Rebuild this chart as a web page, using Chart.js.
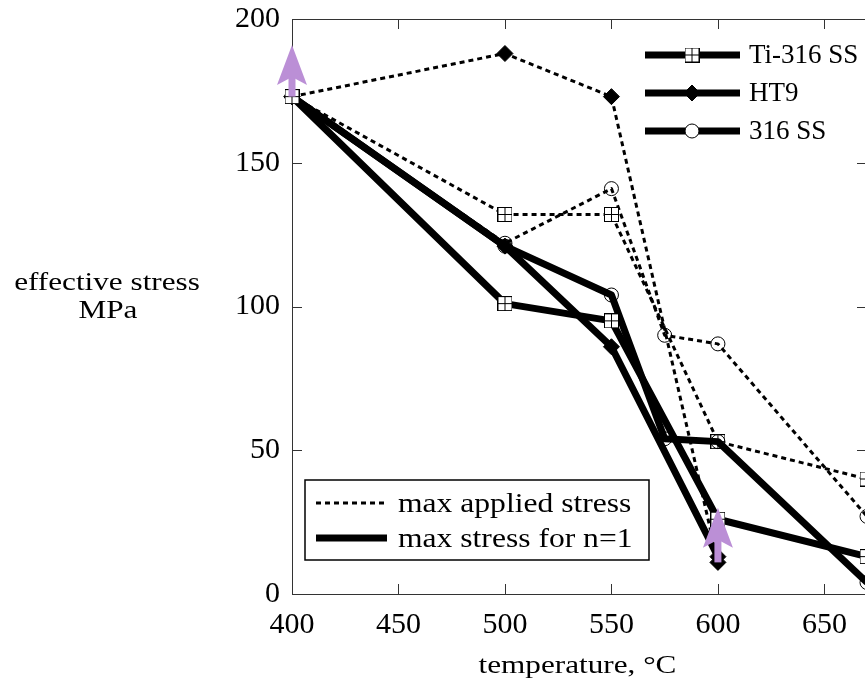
<!DOCTYPE html>
<html>
<head>
<meta charset="utf-8">
<script src="https://cdn.jsdelivr.net/npm/chart.js@4.4.1/dist/chart.umd.min.js"></script>
<style>
    html, body { margin: 0; padding: 0; background: #fff; overflow: hidden; }
    canvas { display: block; }
</style>
</head>
<body>
<canvas id="stressChart" width="880" height="687" style="width:880px;height:687px"></canvas>
<script>
// temperatures (°C) and effective stress (MPa)
const tiTemps = [400, 500, 550, 600, 670];
const tiApplied = [173, 132, 132, 53, 40];
const tiN1 = [173, 101, 95, 26, 13];

const ht9Temps = [400, 500, 550, 600];
const ht9Applied = [173, 188, 173, 11];
const ht9N1 = [173, 121, 86, 13];

const ssTemps = [400, 500, 550, 575, 600, 670];
const ssApplied = [173, 122, 141, 90, 87, 27];
const ssN1 = [173, 121, 104, 54, 53, 4];

const xTicks = [400, 450, 500, 550, 600, 650];
const yTicks = [0, 50, 100, 150, 200];

// purple arrows: temperature, start and end stress
const arrowTemps = [400, 600];
const arrowFrom = [173, 11];
const arrowTo = [191, 30];

const materials = ['Ti-316 SS', 'HT9', '316 SS'];
const stressKinds = ['max applied stress', 'max stress for n=1'];

const serif = "'Liberation Serif', 'Times New Roman', Times, serif";
const arrowColor = '#bb8fd6';

function squareMarker() {
    const c = document.createElement('canvas');
    c.width = 15;
    c.height = 15;
    const g = c.getContext('2d');
    g.fillStyle = '#fff';
    g.fillRect(0, 0, 15, 15);
    g.strokeStyle = '#000';
    g.lineWidth = 1;
    g.strokeRect(0.5, 0.5, 14, 14);
    g.beginPath();
    g.moveTo(7.5, 0); g.lineTo(7.5, 15);
    g.moveTo(0, 7.5); g.lineTo(15, 7.5);
    g.stroke();
    return c;
}
const squareStyle = squareMarker();
const markerStyles = [squareStyle, 'rectRot', 'circle'];
const markerRadius = [7, 8, 7];
const markerFill = ['#fff', '#000', 'rgba(0,0,0,0)'];

const pts = (temps, vals) => temps.map((t, i) => ({ x: t, y: vals[i] }));

function series(label, temps, vals, m, dashed) {
    return {
        label: label,
        data: pts(temps, vals),
        borderColor: '#000',
        borderWidth: dashed ? 3 : 7,
        borderDash: dashed ? [5, 4] : [],
        borderJoinStyle: 'round',
        pointStyle: markerStyles[m],
        pointRadius: markerRadius[m],
        pointBackgroundColor: markerFill[m],
        pointBorderColor: '#000',
        pointBorderWidth: 1,
        showLine: true,
        fill: false,
        clip: false
    };
}

function stretchedText(ctx, text, x, y, align, sx) {
    ctx.save();
    ctx.translate(x, y);
    ctx.scale(sx, 1);
    ctx.textAlign = align;
    ctx.fillText(text, 0, 0);
    ctx.restore();
}

const framePlugin = {
    id: 'frame',
    beforeDatasetsDraw(chart) {
        const { ctx, chartArea: a, scales: { x, y } } = chart;
        ctx.save();
        ctx.strokeStyle = '#333';
        ctx.lineWidth = 1;
        ctx.strokeRect(a.left + 0.5, a.top + 0.5, a.right - a.left, a.bottom - a.top);
        ctx.beginPath();
        xTicks.forEach(v => {
            const px = Math.round(x.getPixelForValue(v)) + 0.5;
            ctx.moveTo(px, a.bottom); ctx.lineTo(px, a.bottom - 10);
            ctx.moveTo(px, a.top); ctx.lineTo(px, a.top + 10);
        });
        yTicks.forEach(v => {
            const py = Math.round(y.getPixelForValue(v)) + 0.5;
            ctx.moveTo(a.left, py); ctx.lineTo(a.left + 10, py);
            ctx.moveTo(a.right, py); ctx.lineTo(a.right - 10, py);
        });
        ctx.stroke();
        ctx.restore();
    }
};

const overlayPlugin = {
    id: 'overlay',
    afterDraw(chart) {
        const { ctx, chartArea: a, scales: { x, y } } = chart;
        ctx.save();

        // arrows
        arrowTemps.forEach((t, i) => {
            const px = x.getPixelForValue(t);
            const y0 = y.getPixelForValue(arrowFrom[i]);
            const y1 = y.getPixelForValue(arrowTo[i]);
            ctx.fillStyle = arrowColor;
            ctx.fillRect(px - 3.5, y1 + 30, 7, y0 - y1 - 30);
            ctx.beginPath();
            ctx.moveTo(px, y1);
            ctx.lineTo(px + 15, y1 + 40);
            ctx.lineTo(px, y1 + 32);
            ctx.lineTo(px - 15, y1 + 40);
            ctx.closePath();
            ctx.fill();
        });

        // axis titles
        ctx.fillStyle = '#000';
        ctx.textBaseline = 'alphabetic';
        ctx.font = '26px ' + serif;
        stretchedText(ctx, 'temperature, °C', (a.left + a.right) / 2 - 2, a.bottom + 79, 'center', 1.2);
        stretchedText(ctx, 'effective stress', 107, 290, 'center', 1.2);
        stretchedText(ctx, 'MPa', 108, 318, 'center', 1.2);

        // material legend
        materials.forEach((name, i) => {
            const ly = a.top + 36 + i * 38;
            ctx.strokeStyle = '#000';
            ctx.lineWidth = 7;
            ctx.setLineDash([]);
            ctx.beginPath();
            ctx.moveTo(a.right - 222, ly);
            ctx.lineTo(a.right - 127, ly);
            ctx.stroke();
            ctx.lineWidth = 1;
            ctx.fillStyle = i === 2 ? '#fff' : markerFill[i];
            Chart.helpers.drawPoint(ctx, {
                pointStyle: markerStyles[i], radius: markerRadius[i], borderWidth: 1
            }, a.right - 175, ly);
            ctx.fillStyle = '#000';
            ctx.font = '27px ' + serif;
            ctx.textBaseline = 'middle';
            ctx.textAlign = 'left';
            ctx.fillText(name, a.right - 118, ly + 1);
        });

        // line style legend
        const bx = a.left + 13, by = a.bottom - 114;
        ctx.fillStyle = '#fff';
        ctx.fillRect(bx, by, 344, 80);
        ctx.strokeStyle = '#000';
        ctx.lineWidth = 1.5;
        ctx.strokeRect(bx, by, 344, 80);
        ctx.font = '27px ' + serif;
        ctx.textBaseline = 'alphabetic';
        stressKinds.forEach((name, i) => {
            const ly = by + 23 + i * 35;
            ctx.lineWidth = i === 0 ? 3 : 7;
            ctx.setLineDash(i === 0 ? [5, 4] : []);
            ctx.beginPath();
            ctx.moveTo(bx + 11, ly);
            ctx.lineTo(bx + 82, ly);
            ctx.stroke();
            ctx.setLineDash([]);
            ctx.fillStyle = '#000';
            stretchedText(ctx, name, bx + 93, ly + 9, 'left', 1.17);
        });
        ctx.restore();
    }
};

function drawChart() {
    new Chart(document.getElementById('stressChart').getContext('2d'), {
        type: 'scatter',
        data: {
            datasets: [
                series(materials[0], tiTemps, tiN1, 0, false),
                series(materials[1], ht9Temps, ht9N1, 1, false),
                series(materials[2], ssTemps, ssN1, 2, false),
                series(materials[0], tiTemps, tiApplied, 0, true),
                series(materials[1], ht9Temps, ht9Applied, 1, true),
                series(materials[2], ssTemps, ssApplied, 2, true)
            ]
        },
        options: {
            responsive: false,
            animation: false,
            events: [],
            layout: { padding: { left: 230, top: 19, right: 13, bottom: 0 } },
            scales: {
                x: {
                    type: 'linear',
                    min: 400,
                    max: 670,
                    grid: { display: false },
                    border: { display: false },
                    afterBuildTicks: s => { s.ticks = xTicks.map(v => ({ value: v })); },
                    afterFit: s => { s.height = 93; },
                    ticks: { padding: 11, color: '#000', font: { family: serif, size: 30, lineHeight: 0.8 } }
                },
                y: {
                    type: 'linear',
                    min: 0,
                    max: 200,
                    grid: { display: false },
                    border: { display: false },
                    afterBuildTicks: s => { s.ticks = yTicks.map(v => ({ value: v })); },
                    afterFit: s => { s.width = 62; },
                    ticks: { padding: 4, color: '#000', font: { family: serif, size: 30, lineHeight: 0.4 } }
                }
            },
            plugins: {
                legend: { display: false },
                tooltip: { enabled: false }
            }
        },
        plugins: [framePlugin, overlayPlugin]
    });
}

document.fonts.load('30px "Liberation Serif"').then(drawChart, drawChart);
</script>
</body>
</html>
